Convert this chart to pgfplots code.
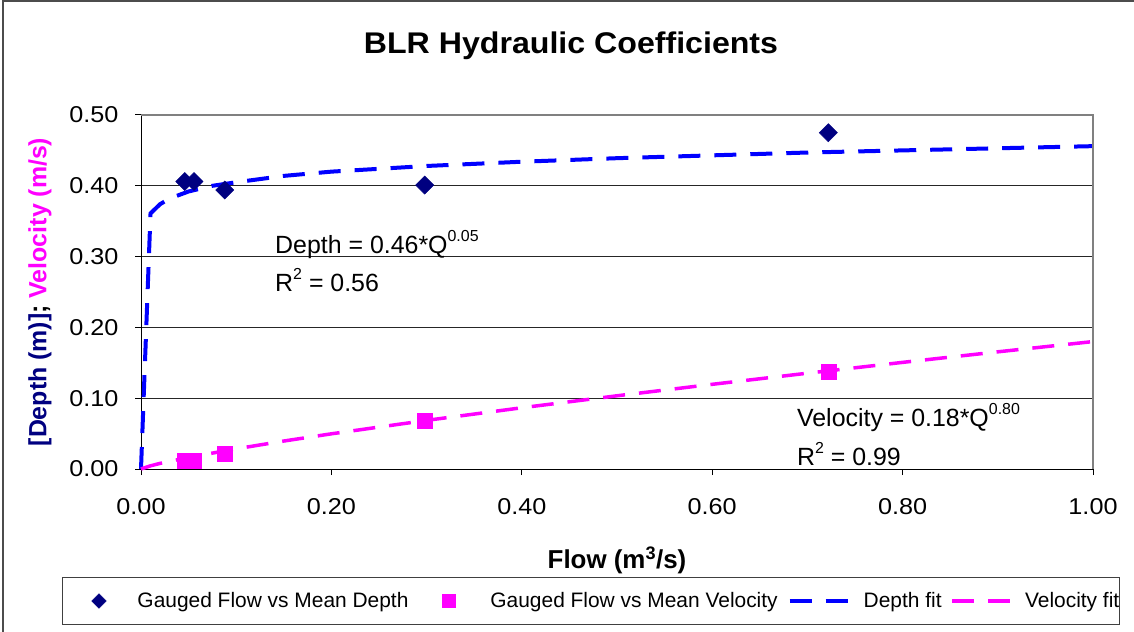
\documentclass[border=0pt]{standalone}
\usepackage{fontspec}
\setmainfont{Liberation Sans}
\newfontfamily\widefont[FakeStretch=1.1]{Liberation Sans}
\newfontfamily\titlefont[FakeStretch=1.075]{Liberation Sans}
\usepackage{pgfplots}
\pgfplotsset{compat=1.18}
\definecolor{navy}{RGB}{0,0,128}
\definecolor{fitblue}{RGB}{0,0,255}
\definecolor{mag}{RGB}{255,0,255}
\newcommand{\xsup}[1]{\raisebox{12bp}{\fontsize{16}{18}\selectfont #1}}
\begin{document}
\begin{tikzpicture}
\useasboundingbox (0,0) rectangle (1134bp,632bp);
\draw[line width=2bp, black!70] (3bp,0) -- (3bp,631bp) -- (1134bp,631bp);
\node[anchor=base, font=\titlefont\bfseries\fontsize{30}{36}\selectfont] at (571bp,578bp) {BLR Hydraulic Coefficients};
\begin{axis}[
  at={(141bp,163bp)}, anchor=south west,
  scale only axis, width=952bp, height=354bp,
  xmin=0, xmax=1, ymin=0, ymax=0.5,
  clip=false,
  axis x line*=bottom, axis y line*=left,
  axis line style={black, line width=1bp},
  xtick={0,0.2,0.4,0.6,0.8,1}, ytick={0,0.1,0.2,0.3,0.4,0.5},
  scaled ticks=false,
  tick align=outside, major tick length=6bp,
  tick style={black, line width=1bp},
  ymajorgrids, grid style={black!85, line width=1bp},
  tick label style={font=\widefont\fontsize{23}{27}\selectfont},
  xticklabel style={/pgf/number format/assume math mode=true, /pgf/number format/fixed, /pgf/number format/fixed zerofill, /pgf/number format/precision=2, yshift=-20bp},
  yticklabel style={/pgf/number format/assume math mode=true, /pgf/number format/fixed, /pgf/number format/fixed zerofill, /pgf/number format/precision=2, xshift=-13bp},
  xlabel={Flow (m\textsuperscript{3}/s)},
  every axis x label/.style={at={(rel axis cs:0.5,0)}, anchor=base, yshift=-99bp, font=\bfseries\fontsize{26}{30}\selectfont},
  ylabel={\textcolor{navy}{[Depth (m)]}; \textcolor{mag}{Velocity (m/s)}},
  every axis y label/.style={at={(rel axis cs:0,0.5)}, rotate=90, anchor=center, yshift=101bp, font=\bfseries\fontsize{25}{30}\selectfont},
  legend columns=4,
  legend cell align=left,
  legend style={at={(axis description cs:-0.083,-0.373)}, anchor=west, draw=black!75, line width=1bp, font=\fontsize{21}{25}\selectfont, inner xsep=0bp, inner ysep=13bp, nodes={inner xsep=0bp}, /tikz/every even column/.append style={column sep=0bp}},
]
\addplot[only marks, color=navy, mark=square*, mark size=6.4bp, mark options={rotate=45, fill=navy, draw=navy, line width=0.5bp},
  legend image code/.code={\path (-36bp,0) (38bp,0); \draw[mark size=5.1bp] plot coordinates {(0bp,0bp)};}]
  coordinates {(0.046,0.406) (0.0557,0.406) (0.088,0.394) (0.298,0.401) (0.722,0.475)};
\addlegendentry{Gauged Flow vs Mean Depth}
\addplot[only marks, color=mag, mark=square*, mark size=7.5bp, mark options={fill=mag, draw=mag, line width=0.5bp},
  legend image code/.code={\path (-40bp,0) (41bp,0); \draw[mark size=6.4bp] plot coordinates {(0bp,0bp)};}]
  coordinates {(0.046,0.0113) (0.0557,0.0113) (0.088,0.0215) (0.298,0.068) (0.722,0.137)};
\addlegendentry{Gauged Flow vs Mean Velocity}
\addplot[fitblue, mark=none, line width=4bp, dash pattern=on 22bp off 14bp,
  legend image code/.code={\path (-10bp,0) (72bp,0); \draw[line width=3.3bp] (0bp,0bp) -- (58bp,0bp);}]
  coordinates {(0,0) (0.01,0.361) (0.02,0.374) (0.03,0.382) (0.05,0.392) (0.075,0.400) (0.1,0.405) (0.15,0.414) (0.2,0.420) (0.3,0.428) (0.4,0.434) (0.5,0.439) (0.6,0.443) (0.7,0.447) (0.8,0.450) (0.9,0.453) (1.0,0.456)};
\addlegendentry{Depth fit}
\addplot[mag, mark=none, line width=3.5bp, dash pattern=on 22bp off 14bp,
  legend image code/.code={\path (-9bp,0) (71bp,0); \draw[line width=3.3bp] (0bp,0bp) -- (58bp,0bp);}]
  coordinates {(0,0) (0.01,0.0045) (0.02,0.0079) (0.05,0.0164) (0.1,0.0285) (0.15,0.0395) (0.2,0.0497) (0.3,0.0687) (0.4,0.0865) (0.5,0.1034) (0.6,0.1196) (0.7,0.1353) (0.8,0.1506) (0.9,0.1655) (1.0,0.18)};
\addlegendentry{Velocity fit}
\draw[black!50, line width=1.5bp] (rel axis cs:0,1) -- (rel axis cs:1,1) -- (rel axis cs:1,0);
\node[anchor=base west, inner sep=0pt, font=\fontsize{25}{30}\selectfont] at (axis cs:0.1408,0.304) {Depth = 0.46*Q\xsup{0.05}};
\node[anchor=base west, inner sep=0pt, font=\fontsize{25}{30}\selectfont] at (axis cs:0.1408,0.251) {R\xsup{2} = 0.56};
\node[anchor=base west, inner sep=0pt, font=\fontsize{25}{30}\selectfont] at (axis cs:0.689,0.0607) {Velocity = 0.18*Q\xsup{0.80}};
\node[anchor=base west, inner sep=0pt, font=\fontsize{25}{30}\selectfont] at (axis cs:0.689,0.0056) {R\xsup{2} = 0.99};
\end{axis}
\end{tikzpicture}
\end{document}
